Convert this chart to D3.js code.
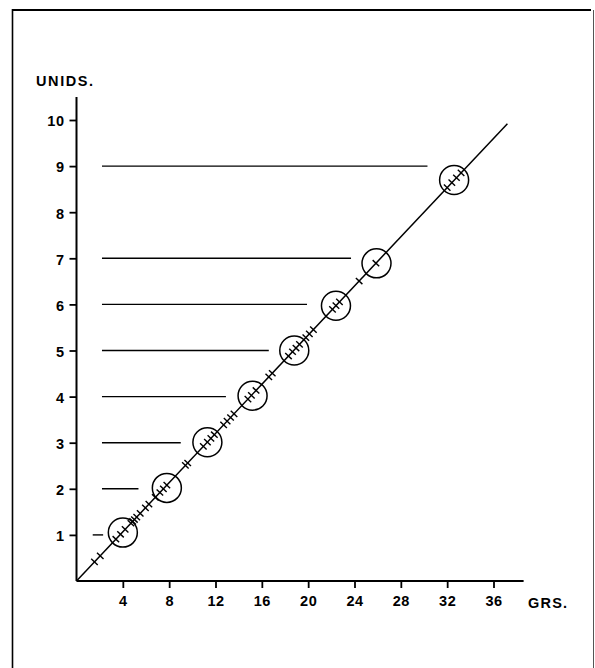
<!DOCTYPE html>
<html><head><meta charset="utf-8">
<script src="https://cdn.jsdelivr.net/npm/d3@7"></script>
<style>body{margin:0;background:#fff}svg{display:block}</style>
</head><body>
<script>
// Data
const xTicks = [4, 8, 12, 16, 20, 24, 28, 32, 36];
const yTicks = [1, 2, 3, 4, 5, 6, 7, 8, 9, 10];
const xLabel = "GRS.";
const yLabel = "UNIDS.";
// calibration line end (grams, units)
const lineEnd = [37.2, 9.92];
// circled calibration points
const circleGrams = [4.0, 7.8, 11.3, 15.2, 18.8, 22.4, 25.9, 32.6];
const circleUnits = [1.05, 2.02, 3.01, 4.02, 5.0, 5.97, 6.89, 8.7];
// reading lines: unit level and gram at which they end
const refUnits = [1, 2, 3, 4, 5, 6, 7, 9];
const refStart = [1.4, 2.2, 2.2, 2.2, 2.2, 2.2, 2.2, 2.2];
const refEnd = [2.3, 5.35, 9.0, 12.9, 16.6, 19.9, 23.7, 30.3];
// individual measurement marks along the line (grams)
const markGrams = [1.55, 2.05, 3.4, 3.8, 4.2, 4.7, 4.85, 5.0, 5.2, 5.5, 5.95, 6.25,
  6.8, 7.2, 7.5, 7.8, 9.4, 9.6, 10.95, 11.3, 11.6, 11.9, 12.7, 13.0, 13.3, 13.6,
  14.8, 15.1, 15.5, 16.6, 16.9, 18.3, 18.65, 18.95, 19.25, 19.8, 20.1, 20.45,
  22.1, 22.4, 22.7, 24.4, 25.85, 32.0, 32.4, 32.8, 33.2];

const W = 595, H = 668;
const svg = d3.select("body").append("svg").attr("width", W).attr("height", H);
const x = d3.scaleLinear().domain([0, 36]).range([76.5, 493.5]);
const y = d3.scaleLinear().domain([0, 10]).range([581, 120]);
const font = "'Liberation Sans', Arial, Helvetica, sans-serif";

// frame
svg.append("line").attr("x1", 12).attr("x2", 591).attr("y1", 10).attr("y2", 10)
  .attr("stroke", "#000").attr("stroke-width", 2.2);
svg.append("line").attr("x1", 12.5).attr("x2", 12.5).attr("y1", 9).attr("y2", H)
  .attr("stroke", "#000").attr("stroke-width", 1.6);
svg.append("line").attr("x1", 593.5).attr("x2", 593.5).attr("y1", 10).attr("y2", H)
  .attr("stroke", "#555").attr("stroke-width", 1);

// axes
const xAxis = d3.axisBottom(x).tickValues(xTicks).tickSize(7).tickPadding(8).tickSizeOuter(0);
const gx = svg.append("g").attr("transform", `translate(0,${y(0)})`).call(xAxis);
gx.select(".domain").remove();
gx.append("line").attr("x1", x(0)).attr("x2", x(38.6)).attr("stroke", "#000").attr("stroke-width", 2);
gx.selectAll(".tick line").attr("stroke", "#000").attr("stroke-width", 1.8);
gx.selectAll(".tick text").attr("fill", "#000").style("font", `bold 14.5px ${font}`)
  .attr("letter-spacing", "0.5px");

const yAxis = d3.axisLeft(y).tickValues(yTicks).tickSize(7).tickPadding(5).tickSizeOuter(0);
const gy = svg.append("g").attr("transform", `translate(${x(0)},0)`).call(yAxis);
gy.select(".domain").remove();
gy.append("line").attr("y1", y(0)).attr("y2", y(10.5)).attr("stroke", "#000").attr("stroke-width", 2);
gy.selectAll(".tick line").attr("stroke", "#000").attr("stroke-width", 1.8);
gy.selectAll(".tick text").attr("fill", "#000").style("font", `bold 14.5px ${font}`)
  .attr("letter-spacing", "0.5px").attr("dy", "0.4em");

// axis titles
svg.append("text").attr("x", 36).attr("y", 86).text(yLabel)
  .style("font", `bold 14.5px ${font}`).attr("letter-spacing", "1.6px");
svg.append("text").attr("x", 528).attr("y", 608).text(xLabel)
  .style("font", `bold 14.5px ${font}`).attr("letter-spacing", "1.2px");

// reading lines
svg.append("g").selectAll("line").data(refUnits).join("line")
  .attr("x1", (d, i) => x(refStart[i])).attr("x2", (d, i) => x(refEnd[i]))
  .attr("y1", d => y(d)).attr("y2", d => y(d))
  .attr("stroke", "#000").attr("stroke-width", 1.4);

// calibration line
svg.append("line").attr("x1", x(0)).attr("y1", y(0))
  .attr("x2", x(lineEnd[0])).attr("y2", y(lineEnd[1]))
  .attr("stroke", "#000").attr("stroke-width", 1.5);

// marks along the line, perpendicular
const px = x(lineEnd[0]) - x(0), py = y(lineEnd[1]) - y(0);
const len = Math.hypot(px, py);
const nx = -py / len, ny = px / len;
const half = 4.5;
svg.append("g").selectAll("line").data(markGrams).join("line")
  .attr("x1", d => x(d) + nx * half)
  .attr("y1", d => y(d * lineEnd[1] / lineEnd[0]) + ny * half)
  .attr("x2", d => x(d) - nx * half)
  .attr("y2", d => y(d * lineEnd[1] / lineEnd[0]) - ny * half)
  .attr("stroke", "#000").attr("stroke-width", 1.4);

// circles
svg.append("g").selectAll("circle").data(circleGrams).join("circle")
  .attr("cx", d => x(d)).attr("cy", (d, i) => y(circleUnits[i]))
  .attr("r", 14.5).attr("fill", "none").attr("stroke", "#000").attr("stroke-width", 1.5);
</script>
</body></html>
